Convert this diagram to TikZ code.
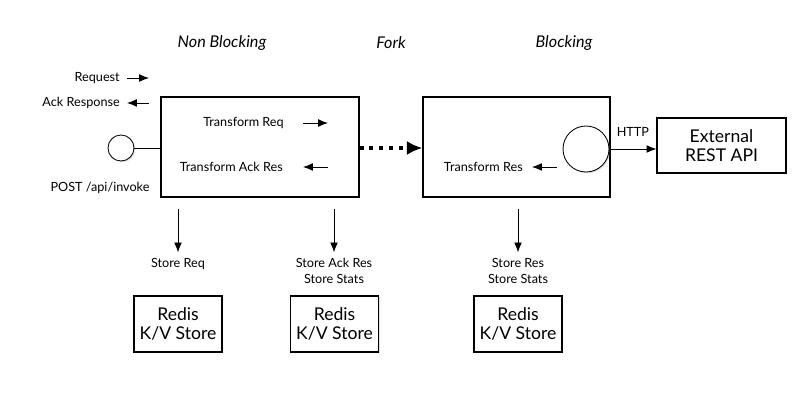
\documentclass[tikz,border=0pt]{standalone}
\usepackage{fontspec}
\setmainfont{Lato}
\usetikzlibrary{arrows.meta,shadows}

\tikzset{
	shade/.style={drop shadow={opacity=0.25, shadow xshift=0.9pt, shadow yshift=-0.9pt}},
	box/.style={draw, line width=0.8pt, fill=white, shade, inner sep=0pt},
	port/.style={circle, draw, line width=0.6pt, fill=white, shade, inner sep=0pt},
	lbl/.style={font=\fontsize{9}{11.5}\selectfont, inner sep=0pt},
	head/.style={font=\fontsize{11.5}{13}\selectfont\itshape, inner sep=0pt},
	big/.style={font=\fontsize{12.5}{14}\selectfont, align=center},
	tip/.style={-{Latex[length=7pt, width=5.5pt]}, line width=0.6pt},
	fwd/.style={tip},
	bwd/.style={{Latex[length=7pt, width=5.5pt]}-, line width=0.6pt},
}

\begin{document}
\begin{tikzpicture}[x=0.025cm, y=-0.025cm]
	\useasboundingbox (0,0) rectangle (800,400);
	% column titles
	\node[head] (nonblk) at (222,43) {Non Blocking};
	\node[head] (fork) at (391,43) {Fork};
	\node[head] (blk) at (564,43) {Blocking};

	% main boxes and ports
	\node[box, minimum width=4.95cm, minimum height=2.5cm] (nbbox) at (260,147) {};
	\node[box, minimum width=4.675cm, minimum height=2.5cm] (blbox) at (516.5,147) {};
	\node[box, big, minimum width=3.225cm, minimum height=1.375cm] (ext) at (721.5,145.5) {External\\REST API};
	\node[port, minimum size=0.65cm] (post) at (121,148) {};
	\node[port, minimum size=1.15cm] (call) at (586,149) {};
	\node[lbl] (postlbl) at (100,188) {POST /api/invoke};

	\draw[line width=0.6pt] (post) -- (post -| nbbox.west);
	\draw[line width=2.8pt, dash pattern=on 2.8pt off 4.2pt, -{Latex[length=11pt, width=10pt]}]
		(nbbox.east |- 0,148) -- (blbox.west |- 0,148);
	\draw[tip] (call) -- (call -| ext.west) node[lbl, midway, above=8.5pt] (http) {HTTP};

	% labels with small arrows
	\foreach \n/\tx/\ax/\len/\y/\t/\d in {req/120/127/22/78/Request/fwd, ack/120/127/22/103/Ack Response/bwd,
		treq/284/303/25/123/Transform Req/fwd, tack/283/303/25/167/Transform Ack Res/bwd,
		tres/523/532/25/167/Transform Res/bwd}
	{
		\node[lbl, anchor=east] (\n) at (\tx,\y) {\t};
		\coordinate (\n-a) at (\ax,\y);
		\coordinate (\n-b) at (\ax+\len,\y);
		\draw[\d] (\n-a) -- (\n-b);
	}

	% stores
	\node[lbl, anchor=north] (sreq) at (178,258) {Store Req};
	\node[lbl, anchor=north, align=center] (sack) at (334,258) {Store Ack Res\\Store Stats};
	\node[lbl, anchor=north, align=center] (sres) at (518,258) {Store Res\\Store Stats};
	\foreach \s/\src/\x in {sreq/nbbox/178, sack/nbbox/334.5, sres/blbox/518}
	{
		\draw[tip, shorten <=7.8pt, shorten >=4pt] (\src.south -| \s.north) -- (\s.north);
		\node[box, big, minimum width=2.2cm, minimum height=1.4cm] (redis-\s) at (\x,324) {Redis\\K/V Store};
	}
\end{tikzpicture}
\end{document}
